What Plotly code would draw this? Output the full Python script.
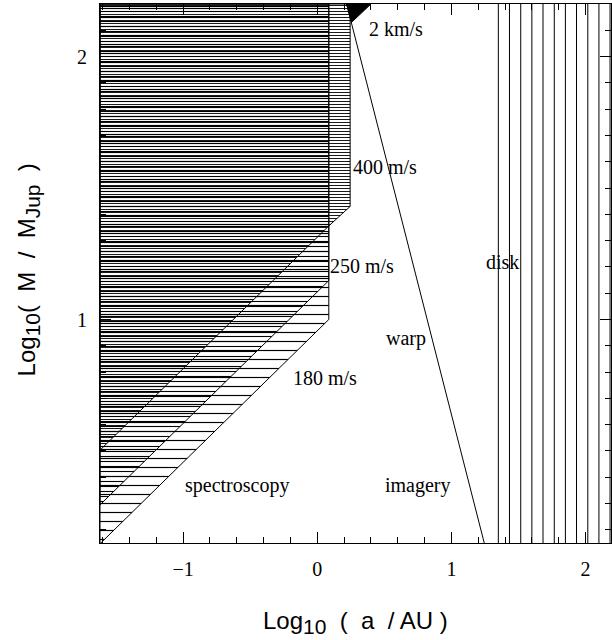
import plotly.graph_objects as go

# ---- data ----
x_range = [-1.62, 2.19]
y_range = [0.15, 2.2]

# radial-velocity detection regions (polygon vertices, data units)
rv180_x = [-1.62, 0.086, 0.086, -1.62]
rv180_y = [0.147, 1.0, 2.2, 2.2]
rv250_x = [-1.62, 0.086, 0.086, -1.62]
rv250_y = [0.295, 1.148, 2.2, 2.2]
rv400_x = [-1.62, 0.086, 0.245, 0.245, -1.62]
rv400_y = [0.503, 1.356, 1.430, 2.2, 2.2]
rv2k_x = [0.2185, 0.40, 0.255]
rv2k_y = [2.2, 2.2, 2.13]

# imagery limit line
img_x = [0.2185, 1.245]
img_y = [2.2, 0.15]

# disk (vertical line hatch) positions
disk_x = [1.35, 1.433, 1.517, 1.60, 1.683, 1.767, 1.85, 1.933, 2.017, 2.10, 2.183]

labels = ["2 km/s", "400 m/s", "250 m/s", "180 m/s", "disk", "warp", "spectroscopy", "imagery"]
label_x = [0.59, 0.508, 0.337, 0.054, 1.379, 0.661, -0.60, 0.75]
label_y = [2.104, 1.579, 1.203, 0.777, 1.218, 0.929, 0.367, 0.367]

x_ticks = [-1, 0, 1, 2]
x_ticktext = ["\u22121", "0", "1", "2"]
y_ticks = [1, 2]

NB = "\u00a0"
x_title = ("Log<sub><span style='font-size:21px'>10</span></sub>" + NB + " (" + NB + " a " + NB + "/ AU )")
y_title = ("Log<sub><span style='font-size:21px'>10</span></sub>(" + NB + " M " + NB + "/" + NB
           + " M<sub><span style='font-size:21px'>Jup</span></sub>" + NB + " )")

fig = go.Figure()

def hatch(xs, ys, size, solidity):
    fig.add_trace(go.Scatter(
        x=xs + [xs[0]], y=ys + [ys[0]], mode="lines", fill="toself",
        fillcolor="rgba(0,0,0,0)",
        fillpattern=dict(shape="-", size=size, solidity=solidity,
                         fgcolor="black", bgcolor="rgba(0,0,0,0)"),
        line=dict(color="black", width=1), hoverinfo="skip", showlegend=False))

hatch(rv180_x, rv180_y, 9, 0.13)
hatch(rv250_x, rv250_y, 5, 0.22)
hatch(rv400_x, rv400_y, 3, 0.3)

fig.add_trace(go.Scatter(
    x=rv2k_x + [rv2k_x[0]], y=rv2k_y + [rv2k_y[0]], mode="lines", fill="toself",
    fillcolor="black", line=dict(color="black", width=1),
    hoverinfo="skip", showlegend=False))

fig.add_trace(go.Scatter(x=img_x, y=img_y, mode="lines",
                         line=dict(color="black", width=1),
                         hoverinfo="skip", showlegend=False))

for xv in disk_x:
    fig.add_trace(go.Scatter(x=[xv, xv], y=y_range, mode="lines",
                             line=dict(color="black", width=1),
                             hoverinfo="skip", showlegend=False))

# dummy trace to activate mirrored top/right axes
fig.add_trace(go.Scatter(x=[x_range[0]], y=[y_range[0]], xaxis="x2", yaxis="y2",
                         mode="markers", marker=dict(opacity=0),
                         hoverinfo="skip", showlegend=False))

for t, lx, ly in zip(labels, label_x, label_y):
    fig.add_annotation(x=lx, y=ly, text=t, showarrow=False,
                       xanchor="center", yanchor="middle",
                       font=dict(family="Liberation Serif", size=20, color="black"))

fig.add_annotation(xref="paper", yref="paper", x=0.50, y=-0.1466,
                   xanchor="center", yanchor="middle",
                   text=x_title, showarrow=False,
                   font=dict(family="Liberation Sans", size=24, color="black"))
fig.add_annotation(xref="paper", yref="paper", x=-0.1406, y=0.506, textangle=-90,
                   xanchor="center", yanchor="middle",
                   text=y_title, showarrow=False,
                   font=dict(family="Liberation Sans", size=24, color="black"))

axis_common = dict(showline=True, linecolor="black", linewidth=1,
                   ticks="inside", ticklen=11, tickcolor="black", showgrid=False,
                   zeroline=False, automargin=False,
                   tickfont=dict(family="Liberation Serif", size=20, color="black"))

fig.update_layout(
    template="none",
    width=612, height=640, margin=dict(l=100, r=1, t=4, b=97),
    plot_bgcolor="white", paper_bgcolor="white", showlegend=False,
    xaxis=dict(range=x_range, tickvals=x_ticks, ticktext=x_ticktext,
               ticklabelstandoff=8,
               minor=dict(ticks="inside", ticklen=6, dtick=0.2, tick0=0,
                          tickcolor="black", showgrid=False),
               **axis_common),
    yaxis=dict(range=y_range, tickvals=y_ticks, ticklabelstandoff=8,
               minor=dict(ticks="inside", ticklen=6, dtick=0.1, tick0=0,
                          tickcolor="black", showgrid=False),
               **axis_common),
    xaxis2=dict(range=x_range, overlaying="x", side="top", anchor="y2",
                tickvals=x_ticks, showticklabels=False,
                minor=dict(ticks="inside", ticklen=6, dtick=0.2, tick0=0,
                           tickcolor="black", showgrid=False),
                **axis_common),
    yaxis2=dict(range=y_range, overlaying="y", side="right", anchor="x2",
                tickvals=y_ticks, showticklabels=False,
                minor=dict(ticks="inside", ticklen=6, dtick=0.1, tick0=0,
                           tickcolor="black", showgrid=False),
                **axis_common),
)

fig.write_html("out.html", config={"displayModeBar": False},
               post_script="document.body.style.margin='0';document.body.style.overflow='hidden';")
